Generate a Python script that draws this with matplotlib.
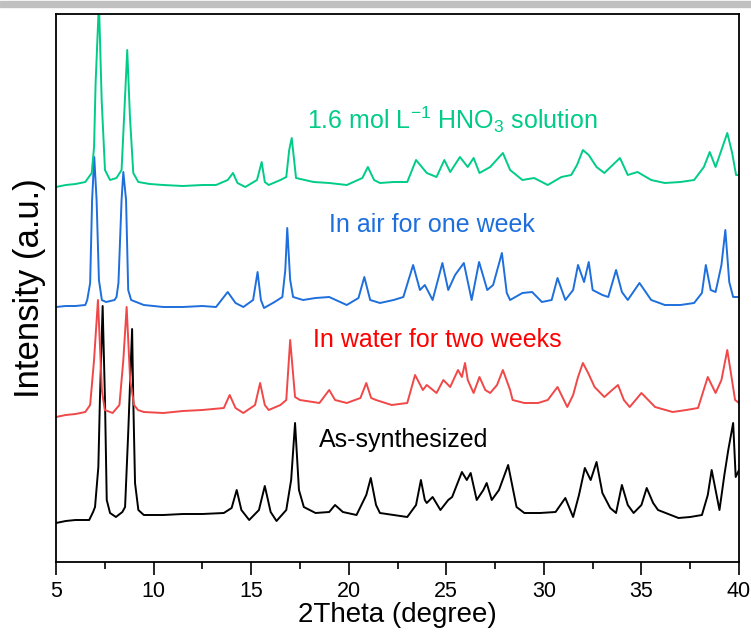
import matplotlib
matplotlib.use("agg")
import matplotlib.pyplot as plt
from matplotlib.patches import Rectangle
from matplotlib.ticker import MultipleLocator

# As-synthesized (black)
black_x = [5.0, 5.5, 6.0, 6.7, 6.9, 7.0, 7.17, 7.25, 7.39, 7.51, 7.6, 7.77, 8.07, 8.4, 8.54,
           8.7, 8.9, 8.96, 9.05, 9.22, 9.5, 10.5, 11.5, 12.5, 13.6, 14.0, 14.26, 14.5, 14.9,
           15.4, 15.7, 16.0, 16.3, 16.8, 17.05, 17.25, 17.45, 17.7, 18.3, 19.0, 19.3, 19.7,
           20.4, 20.9, 21.13, 21.4, 21.6, 22.3, 23.0, 23.45, 23.7, 23.9, 24.0, 24.3, 24.7,
           25.1, 25.3, 25.8, 26.05, 26.25, 26.56, 26.9, 27.07, 27.33, 27.7, 28.17, 28.6, 29.0,
           29.8, 30.6, 31.1, 31.5, 31.8, 32.1, 32.4, 32.7, 33.0, 33.4, 33.7, 34.0, 34.3, 34.6,
           35.0, 35.27, 35.6, 35.85, 36.9, 37.5, 38.1, 38.4, 38.6, 38.85, 39.0, 39.25, 39.45,
           39.7, 39.83, 40.0]
black_y = [39, 41, 42, 42, 50, 55, 95, 162, 256, 162, 62, 49, 45, 50, 55,
           129, 233, 162, 79, 52, 47, 47, 48, 48, 49, 54, 72, 52, 42,
           52, 76, 50, 41, 52, 82, 139, 72, 55, 49, 50, 57, 50,
           47, 67, 84, 57, 49, 47, 45, 57, 82, 62, 59, 65, 52,
           62, 65, 90, 82, 89, 62, 72, 79, 62, 72, 97, 55, 49,
           49, 50, 64, 45, 67, 94, 82, 100, 69, 54, 49, 77, 57, 49,
           57, 74, 59, 52, 44, 45, 47, 67, 92, 67, 52, 87, 112,
           139, 85, 92]

# In water for two weeks (red)
red_x = [5.0, 5.5, 6.0, 6.5, 6.75, 6.95, 7.15, 7.35, 7.5, 7.9, 8.25, 8.45, 8.62, 8.8, 9.0,
         9.2, 9.5, 10.5, 11.5, 12.5, 13.6, 13.9, 14.2, 14.6, 15.2, 15.46, 15.7, 15.9, 16.5,
         16.8, 17.0, 17.25, 17.5, 18.5, 19.0, 19.3, 19.9, 20.6, 20.9, 21.15, 21.4, 22.2,
         23.0, 23.4, 23.8, 24.0, 24.5, 24.85, 25.2, 25.6, 25.8, 25.96, 26.1, 26.4, 26.7,
         27.0, 27.25, 27.6, 27.9, 28.27, 28.4, 29.0, 29.7, 30.2, 30.7, 31.2, 31.5, 31.75,
         32.0, 32.27, 32.6, 33.1, 33.5, 33.8, 34.1, 34.4, 35.0, 35.7, 36.6, 37.3, 37.9,
         38.4, 38.8, 39.1, 39.4, 39.6, 39.8, 40.0]
red_y = [145, 147, 148, 150, 157, 202, 262, 172, 152, 149, 157, 202, 255, 182, 157,
         152, 150, 149, 151, 152, 154, 167, 154, 149, 157, 179, 157, 152, 157,
         162, 222, 165, 162, 159, 172, 162, 159, 164, 179, 164, 162, 157,
         159, 187, 172, 177, 169, 182, 175, 192, 185, 199, 182, 169, 185,
         172, 169, 177, 192, 172, 162, 159, 159, 162, 175, 155, 167, 185,
         199, 189, 175, 165, 172, 177, 162, 155, 169, 155, 150, 152, 154,
         185, 169, 182, 212, 187, 162, 159]

# In air for one week (blue)
blue_x = [5.0, 5.5, 6.0, 6.5, 6.6, 6.75, 6.85, 6.96, 7.08, 7.2, 7.35, 7.56, 8.0, 8.1, 8.2,
          8.36, 8.45, 8.59, 8.7, 8.85, 9.5, 10.5, 11.5, 12.5, 13.2, 13.8, 14.2, 14.6, 15.1,
          15.33, 15.5, 15.66, 16.2, 16.6, 16.75, 16.85, 17.0, 17.15, 17.66, 18.3, 19.0,
          19.9, 20.5, 20.8, 21.1, 21.6, 22.3, 22.8, 23.3, 23.65, 23.9, 24.3, 24.8, 25.1,
          25.45, 25.9, 26.3, 26.68, 27.1, 27.4, 27.85, 28.1, 28.27, 28.9, 29.4, 29.9, 30.4,
          30.7, 31.1, 31.5, 31.75, 32.06, 32.3, 32.5, 33.0, 33.3, 33.7, 34.0, 34.3, 34.9,
          35.5, 36.2, 37.0, 37.7, 38.1, 38.3, 38.55, 38.8, 39.1, 39.3, 39.5, 39.7, 40.0]
blue_y = [255, 256, 256, 257, 262, 279, 362, 405, 362, 282, 262, 260, 262, 265, 279,
          362, 390, 362, 272, 262, 257, 255, 255, 256, 255, 270, 259, 255, 262,
          290, 262, 254, 260, 265, 292, 334, 282, 265, 262, 264, 265,
          257, 264, 285, 262, 259, 262, 265, 297, 272, 277, 262, 299, 272,
          287, 299, 262, 300, 272, 277, 309, 269, 262, 269, 270, 260, 262,
          284, 262, 272, 297, 280, 300, 272, 267, 265, 292, 270, 262, 279,
          262, 257, 257, 259, 269, 297, 272, 270, 297, 332, 280, 265, 265]

# 1.6 mol/L HNO3 solution (green)
green_x = [5.0, 5.5, 6.0, 6.5, 6.83, 6.95, 7.03, 7.2, 7.34, 7.51, 7.77, 8.1, 8.36, 8.49,
           8.65, 8.79, 8.96, 9.22, 9.8, 10.5, 11.5, 12.5, 13.2, 13.8, 14.07, 14.3, 14.7,
           15.3, 15.54, 15.7, 15.9, 16.5, 16.8, 16.95, 17.08, 17.3, 18.2, 19.0, 19.9, 20.7,
           20.98, 21.3, 21.6, 22.3, 23.0, 23.45, 24.0, 24.5, 24.9, 25.2, 25.7, 26.1, 26.4,
           26.7, 27.25, 27.9, 28.27, 28.9, 29.5, 30.2, 30.9, 31.4, 31.7, 32.0, 32.3, 32.7,
           33.1, 33.9, 34.3, 34.8, 35.5, 36.2, 37.0, 37.7, 38.2, 38.5, 38.8, 39.1, 39.4,
           39.65, 39.85, 40.0]
green_y = [375, 377, 378, 380, 389, 415, 479, 560, 462, 392, 382, 384, 392, 445,
           512, 445, 389, 380, 378, 377, 376, 377, 377, 382, 389, 379, 375,
           382, 400, 380, 377, 382, 385, 412, 424, 384, 380, 379, 377, 384,
           395, 382, 379, 380, 380, 402, 389, 385, 402, 390, 405, 395, 404,
           389, 395, 409, 392, 382, 384, 377, 385, 387, 397, 412, 407, 395,
           389, 404, 387, 390, 382, 379, 380, 382, 395, 410, 395, 412, 429,
           409, 387, 387]

series = [
    (black_x, black_y, "#000000"),
    (red_x, red_y, "#F04848"),
    (blue_x, blue_y, "#1E6FDC"),
    (green_x, green_y, "#00CC88"),
]

labels = ["As-synthesized", "In water for two weeks", "In air for one week",
          r"1.6 mol L$^{-1}$ HNO$_3$ solution"]
label_colors = ["#000000", "#FF0000", "#1E6FDC", "#00CC88"]
label_pos = [(18.5, 122), (18.15, 222), (19.0, 337), (17.85, 442)]

plt.rcParams["mathtext.fontset"] = "custom"
plt.rcParams["mathtext.rm"] = "Liberation Sans"

fig = plt.figure(figsize=(7.51, 6.43), dpi=100)
ax = fig.add_axes([56 / 751, 1 - 562 / 643, (739 - 56) / 751, (562 - 14) / 643])

for x, y, c in series:
    ax.plot(x, y, color=c, linewidth=1.4)

for txt, c, (tx, ty) in zip(labels, label_colors, label_pos):
    ax.text(tx, ty, txt, color=c, fontsize=18, family="Liberation Sans",
            va="center", ha="left")

ax.set_xlim(5, 40)
ax.set_ylim(0, 548)
ax.xaxis.set_major_locator(MultipleLocator(5))
ax.xaxis.set_minor_locator(MultipleLocator(2.5))
ax.tick_params(axis="x", which="major", direction="out", length=9, width=1.2, pad=5)
ax.tick_params(axis="x", which="minor", direction="out", length=5, width=1.2)
ax.set_yticks([])
for lab in ax.get_xticklabels():
    lab.set_family("Liberation Sans")
    lab.set_fontsize(15.5)
for sp in ax.spines.values():
    sp.set_linewidth(1.3)

ax.set_xlabel("2Theta (degree)", fontsize=20, family="Liberation Sans", labelpad=0)
ax.set_ylabel("Intensity (a.u.)", fontsize=25, family="Liberation Sans", labelpad=7)

# grey strip across the top of the image
fig.patches.append(Rectangle((0, 1 - 7 / 643), 1, 6 / 643, transform=fig.transFigure,
                             color="#C0C0C0", zorder=0))

plt.savefig("out.png")
